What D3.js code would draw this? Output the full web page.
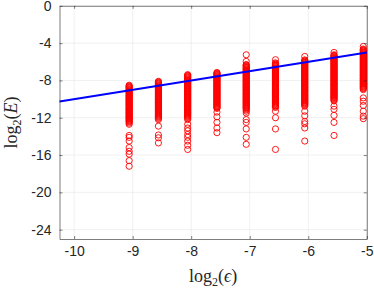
<!DOCTYPE html>
<meta charset="utf-8">
<style>
body { margin: 0; background: #fff; }
.tick text { font-family: "Liberation Sans", Arial, Helvetica, sans-serif; font-size: 14px; fill: #262626; }
.grid line { stroke: #e5e5e5; stroke-width: 0.6px; }
.lbl { font-family: "Liberation Serif", "DejaVu Serif", serif; font-size: 18px; fill: #262626; }
</style>
<svg width="374" height="289"></svg>
<script src="https://cdn.jsdelivr.net/npm/d3@7"></script>
<script>

// column positions, log2(eps)
var epsCols = [-9.06, -8.56, -8.06, -7.56, -7.06, -6.56, -6.06, -5.56, -5.06];

// log2(E) values per column (dense band, then the stragglers below it)
var errM9 = [-8.52, -8.6, -8.68, -8.74, -8.81, -8.9, -8.97, -9.04, -9.12, -9.19, -9.26, -9.34, -9.41, -9.5, -9.58, -9.65, -9.72, -9.79, -9.86, -9.95, -10.03, -10.1, -10.17, -10.24, -10.31, -10.4, -10.48, -10.55, -10.62, -10.69, -10.77, -10.85, -10.93, -11.0, -11.08, -11.15, -11.22, -11.3, -11.39, -11.46, -11.53, -11.6, -11.68, -11.76, -11.84, -11.9, -11.97, -12.05, -12.13, -12.21, -12.29, -12.36, -12.44, -12.57, -12.7,
  -13.9, -14.1, -14.5, -15.2, -15.6, -15.9, -16.6, -17.2];
var errM85 = [-8.1, -8.17, -8.24, -8.31, -8.39, -8.47, -8.55, -8.61, -8.68, -8.76, -8.83, -8.91, -8.99, -9.06, -9.13, -9.2, -9.28, -9.36, -9.44, -9.5, -9.57, -9.65, -9.72, -9.8, -9.88, -9.95, -10.02, -10.09, -10.17, -10.25, -10.33, -10.39, -10.46, -10.54, -10.61, -10.69, -10.77, -10.84, -10.91, -10.98, -11.06, -11.14, -11.22, -11.28, -11.35, -11.43, -11.5, -11.58, -11.66, -11.73, -11.8, -11.88, -11.97, -12.08, -12.2,
  -12.9, -13.85, -14.15, -14.7];
var errM8 = [-7.38, -7.45, -7.52, -7.6, -7.67, -7.75, -7.83, -7.9, -7.97, -8.04, -8.12, -8.2, -8.28, -8.34, -8.41, -8.49, -8.57, -8.64, -8.72, -8.79, -8.86, -8.94, -9.02, -9.09, -9.16, -9.23, -9.31, -9.39, -9.47, -9.53, -9.6, -9.68, -9.76, -9.83, -9.91, -9.98, -10.05, -10.13, -10.21, -10.28, -10.35, -10.42, -10.5, -10.58, -10.66, -10.73, -10.8, -10.87, -10.95, -11.03, -11.11, -11.17, -11.24, -11.32, -11.4, -11.47, -11.55, -11.62, -11.7, -11.78, -11.86, -11.95, -12.05, -12.2,
  -12.7, -13.1, -13.4, -13.8, -14.1, -14.5, -14.95, -15.4];
var errM75 = [-7.15, -7.22, -7.29, -7.36, -7.44, -7.52, -7.6, -7.66, -7.73, -7.81, -7.88, -7.96, -8.04, -8.11, -8.18, -8.25, -8.33, -8.41, -8.49, -8.55, -8.62, -8.7, -8.77, -8.85, -8.93, -9.0, -9.07, -9.14, -9.22, -9.3, -9.38, -9.44, -9.51, -9.59, -9.66, -9.74, -9.82, -9.89, -9.96, -10.03, -10.11, -10.19, -10.27, -10.33, -10.4, -10.48, -10.55, -10.63, -10.71, -10.78, -10.85, -10.92, -11.0,
  -11.4, -11.9, -12.5, -13.1, -13.6];
var errM7 = [-5.25, -5.96, -6.3, -6.37, -6.44, -6.51, -6.59, -6.67, -6.75, -6.81, -6.88, -6.96, -7.03, -7.11, -7.19, -7.26, -7.33, -7.4, -7.48, -7.56, -7.64, -7.7, -7.77, -7.85, -7.92, -8.0, -8.08, -8.15, -8.22, -8.29, -8.37, -8.45, -8.53, -8.59, -8.66, -8.74, -8.81, -8.89, -8.97, -9.04, -9.11, -9.18, -9.26, -9.34, -9.42, -9.48, -9.55, -9.63, -9.7, -9.78, -9.86, -9.93, -10.0, -10.07, -10.15, -10.23, -10.31, -10.37, -10.44, -10.52, -10.59, -10.67, -10.75, -10.82, -10.89, -10.96, -11.04, -11.15, -11.3,
  -11.5, -12.2, -12.5, -13.2, -14.1, -14.85];
var errM65 = [-5.78, -6.12, -6.19, -6.27, -6.34, -6.41, -6.49, -6.56, -6.64, -6.72, -6.78, -6.85, -6.93, -7.0, -7.08, -7.16, -7.23, -7.3, -7.37, -7.45, -7.53, -7.61, -7.67, -7.74, -7.82, -7.89, -7.97, -8.05, -8.12, -8.19, -8.26, -8.34, -8.42, -8.5, -8.56, -8.63, -8.71, -8.78, -8.86, -8.94, -9.01, -9.08, -9.15, -9.23, -9.31, -9.39, -9.45, -9.52, -9.6, -9.67, -9.75, -9.83, -9.9, -9.97, -10.04, -10.12, -10.2, -10.28, -10.34, -10.41, -10.49, -10.56, -10.64, -10.72, -10.8, -10.9,
  -11.3, -12.0, -13.2, -15.4];
var errM6 = [-5.43, -5.8, -5.87, -5.95, -6.02, -6.09, -6.17, -6.24, -6.32, -6.4, -6.46, -6.53, -6.61, -6.68, -6.76, -6.84, -6.91, -6.98, -7.05, -7.13, -7.21, -7.29, -7.35, -7.42, -7.5, -7.57, -7.65, -7.73, -7.8, -7.87, -7.94, -8.02, -8.1, -8.18, -8.24, -8.31, -8.39, -8.46, -8.54, -8.62, -8.69, -8.76, -8.83, -8.91, -8.99, -9.07, -9.13, -9.2, -9.28, -9.35, -9.43, -9.51, -9.58, -9.65, -9.72, -9.8, -9.88, -9.96, -10.02, -10.09, -10.17, -10.24, -10.32, -10.4, -10.47, -10.55, -10.65, -10.76,
  -11.3, -11.8, -12.4, -12.65, -13.1, -14.5];
var errM55 = [-5.0, -5.25, -5.32, -5.39, -5.46, -5.54, -5.62, -5.7, -5.76, -5.83, -5.91, -5.98, -6.06, -6.14, -6.21, -6.28, -6.35, -6.43, -6.51, -6.59, -6.65, -6.72, -6.8, -6.87, -6.95, -7.03, -7.1, -7.17, -7.24, -7.32, -7.4, -7.48, -7.54, -7.61, -7.69, -7.76, -7.84, -7.92, -7.99, -8.06, -8.13, -8.21, -8.29, -8.37, -8.43, -8.5, -8.58, -8.65, -8.73, -8.81, -8.88, -8.95, -9.02, -9.1, -9.18, -9.26, -9.32, -9.39, -9.47, -9.54, -9.62, -9.7, -9.77, -9.84, -9.92, -10.0, -10.1, -10.2,
  -10.76, -11.1, -11.75, -12.5, -13.9];
var errM5 = [-4.36, -4.64, -4.71, -4.78, -4.85, -4.93, -5.01, -5.09, -5.15, -5.22, -5.3, -5.37, -5.45, -5.53, -5.6, -5.67, -5.74, -5.82, -5.9, -5.98, -6.04, -6.11, -6.19, -6.26, -6.34, -6.42, -6.49, -6.56, -6.63, -6.71, -6.79, -6.87, -6.93, -7.0, -7.08, -7.15, -7.23, -7.31, -7.38, -7.45, -7.52, -7.6, -7.68, -7.76, -7.82, -7.89, -7.97, -8.04, -8.12, -8.2, -8.27, -8.34, -8.41, -8.49, -8.57, -8.65, -8.72, -8.8, -8.89, -8.98,
  -9.87, -10.23, -10.69, -11.3, -11.83, -12.1];

var errCols = [errM9, errM85, errM8, errM75, errM7, errM65, errM6, errM55, errM5];

// reference line log2(E) = log2(eps)
var lineX = [-10.25, -5];
var lineY = [-10.25, -5];

var xTicks = [-10, -9, -8, -7, -6, -5];
var yTicks = [0, -4, -8, -12, -16, -20, -24];

var svg = d3.select("svg");
var pLeft = 59.5, pRight = 366.8, pTop = 5.8, pBottom = 239;

var x = d3.scaleLinear().domain([-10.25, -5]).range([pLeft, pRight]);
var y = d3.scaleLinear().domain([-25, 0]).range([pBottom, pTop]);

// grid
var grid = svg.append("g").attr("class", "grid");
grid.selectAll(".gx").data(xTicks).enter().append("line")
    .attr("x1", function(d) { return x(d); }).attr("x2", function(d) { return x(d); })
    .attr("y1", pTop).attr("y2", pBottom);
grid.selectAll(".gy").data(yTicks).enter().append("line")
    .attr("y1", function(d) { return y(d); }).attr("y2", function(d) { return y(d); })
    .attr("x1", pLeft).attr("x2", pRight);

// points
var pts = [];
errCols.forEach(function(col, i) {
  col.forEach(function(v) { pts.push({e: epsCols[i], err: v}); });
});

svg.append("g").selectAll("circle").data(pts).enter().append("circle")
    .attr("cx", function(d) { return x(d.e); })
    .attr("cy", function(d) { return y(d.err); })
    .attr("r", 3.1)
    .attr("fill", "none")
    .attr("stroke", "#ff0000")
    .attr("stroke-width", 0.9);

// line
svg.append("path")
    .datum(d3.range(lineX.length))
    .attr("fill", "none")
    .attr("stroke", "#0000ff")
    .attr("stroke-width", 2)
    .attr("d", d3.line().x(function(i) { return x(lineX[i]); }).y(function(i) { return y(lineY[i]); }));

// axes
svg.append("g").attr("transform", "translate(0," + pBottom + ")")
    .call(d3.axisBottom(x).tickValues(xTicks).tickSizeInner(-3).tickSizeOuter(0).tickPadding(7).tickFormat(d3.format("d")));
svg.append("g").attr("transform", "translate(" + pLeft + ",0)")
    .call(d3.axisLeft(y).tickValues(yTicks).tickSizeInner(-3).tickSizeOuter(0).tickPadding(8).tickFormat(d3.format("d")));
svg.append("g").attr("transform", "translate(0," + pTop + ")")
    .call(d3.axisTop(x).tickValues(xTicks).tickSizeInner(-3).tickSizeOuter(0).tickFormat(""));
svg.append("g").attr("transform", "translate(" + pRight + ",0)")
    .call(d3.axisRight(y).tickValues(yTicks).tickSizeInner(-3).tickSizeOuter(0).tickFormat(""));
svg.selectAll(".domain, .tick line").attr("stroke", "#262626").attr("stroke-width", 0.6);
// use ascii hyphen-minus like the reference
svg.selectAll(".tick text").text(function() { return this.textContent.replace("\u2212", "-"); });

// labels
var xl = svg.append("text").attr("class", "lbl")
    .attr("x", (pLeft + pRight) / 2).attr("y", 282).attr("text-anchor", "middle");
xl.append("tspan").text("log");
xl.append("tspan").attr("font-size", "12px").attr("dy", 4).text("2");
xl.append("tspan").attr("dy", -4).text("(");
xl.append("tspan").attr("font-style", "italic").text("\u03f5");
xl.append("tspan").text(")");

var yl = svg.append("text").attr("class", "lbl")
    .attr("transform", "translate(17," + (pTop + pBottom) / 2 + ") rotate(-90)")
    .attr("text-anchor", "middle");
yl.append("tspan").text("log");
yl.append("tspan").attr("font-size", "12px").attr("dy", 4).text("2");
yl.append("tspan").attr("dy", -4).text("(");
yl.append("tspan").attr("font-style", "italic").text("E");
yl.append("tspan").text(")");

</script>
